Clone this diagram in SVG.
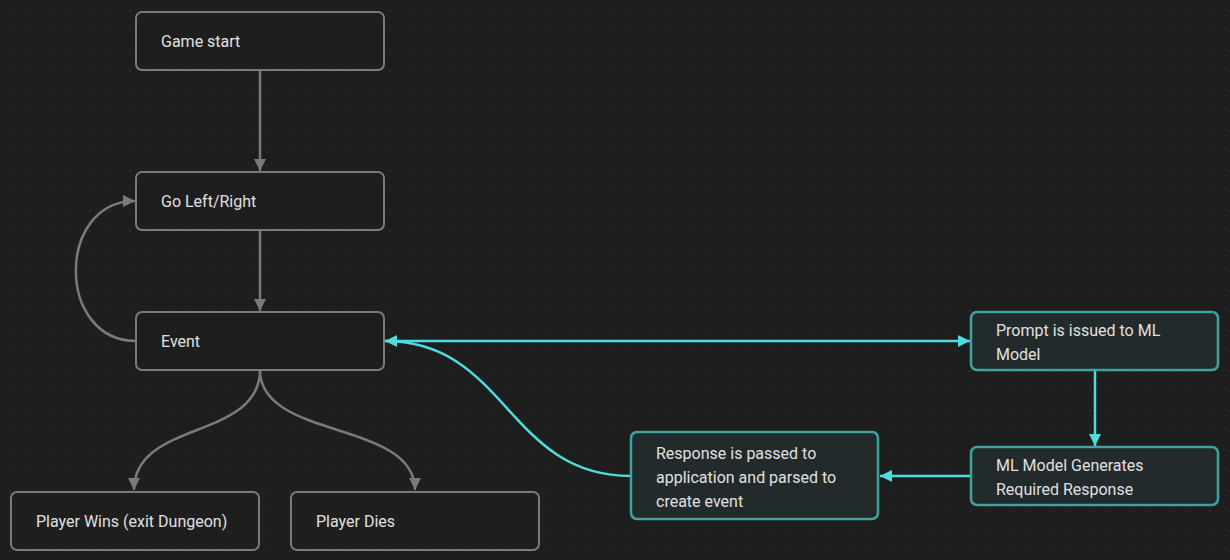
<svg xmlns="http://www.w3.org/2000/svg" width="1230" height="560" viewBox="0 0 1230 560">
<defs>
<pattern id="dots" x="0" y="0" width="20" height="20" patternUnits="userSpaceOnUse">
<circle cx="10" cy="11" r="0.8" fill="#3a3a3a"/>
</pattern>
<marker id="ag" markerUnits="userSpaceOnUse" markerWidth="14" markerHeight="14" refX="12" refY="7" orient="auto">
<path d="M0,1 L12,7 L0,13 Z" fill="#7a7a7a"/>
</marker>
<marker id="at" markerUnits="userSpaceOnUse" markerWidth="14" markerHeight="14" refX="12" refY="7" orient="auto">
<path d="M0,1 L12,7 L0,13 Z" fill="#4fdcdc"/>
</marker>
<style>
.n rect{fill:#1e1e1e;stroke:#7a7a7a;stroke-width:2}
.t rect{fill:#222a2b;stroke:#3fa3a0;stroke-width:2.5}
text{font-family:Roboto,"Liberation Sans",sans-serif;font-size:16px;fill:#e0e0e0}
.cg{fill:none;stroke:#7a7a7a;stroke-width:2.5}
.ct{fill:none;stroke:#4fdcdc;stroke-width:2.5}
</style>
</defs>
<rect width="1230" height="560" fill="#1e1e1e"/>
<rect width="1230" height="560" fill="url(#dots)"/>
<g id="connectors">
<path class="cg" d="M260,70 L260,171" marker-end="url(#ag)"/>
<path class="cg" d="M260,230 L260,311" marker-end="url(#ag)"/>
<path class="cg" d="M136,341 C56,341 56,201 135,201" marker-end="url(#ag)"/>
<path class="cg" d="M260,370 C260,440 134,420 134,490" marker-end="url(#ag)"/>
<path class="cg" d="M260,370 C260,440 415,420 415,490" marker-end="url(#ag)"/>
<path class="ct" d="M384,341 L970,341" marker-end="url(#at)"/>
<path class="ct" d="M1095,370 L1095,446" marker-end="url(#at)"/>
<path class="ct" d="M971,476 L880,476" marker-end="url(#at)"/>
<path class="ct" d="M631,476 C507,476 507,341 385,341" marker-end="url(#at)"/>
</g>
<g id="game-start" class="n"><rect x="136" y="12" width="248" height="58" rx="6"/><text x="161" y="47">Game start</text></g>
<g id="go-left-right" class="n"><rect x="136" y="172" width="248" height="58" rx="6"/><text x="161" y="207">Go Left/Right</text></g>
<g id="event" class="n"><rect x="136" y="312" width="248" height="58" rx="6"/><text x="161" y="347">Event</text></g>
<g id="player-wins" class="n"><rect x="11" y="492" width="248" height="58" rx="6"/><text x="36" y="527">Player Wins (exit Dungeon)</text></g>
<g id="player-dies" class="n"><rect x="291" y="492" width="248" height="58" rx="6"/><text x="316" y="527">Player Dies</text></g>
<g id="prompt" class="t"><rect x="971" y="312" width="247" height="58" rx="6"/><text x="996" y="336">Prompt is issued to ML</text><text x="996" y="360">Model</text></g>
<g id="ml-model" class="t"><rect x="971" y="447" width="247" height="58" rx="6"/><text x="996" y="471">ML Model Generates</text><text x="996" y="495">Required Response</text></g>
<g id="response" class="t"><rect x="631" y="432" width="247" height="87" rx="6"/><text x="656" y="459">Response is passed to</text><text x="656" y="483">application and parsed to</text><text x="656" y="507">create event</text></g>
</svg>
